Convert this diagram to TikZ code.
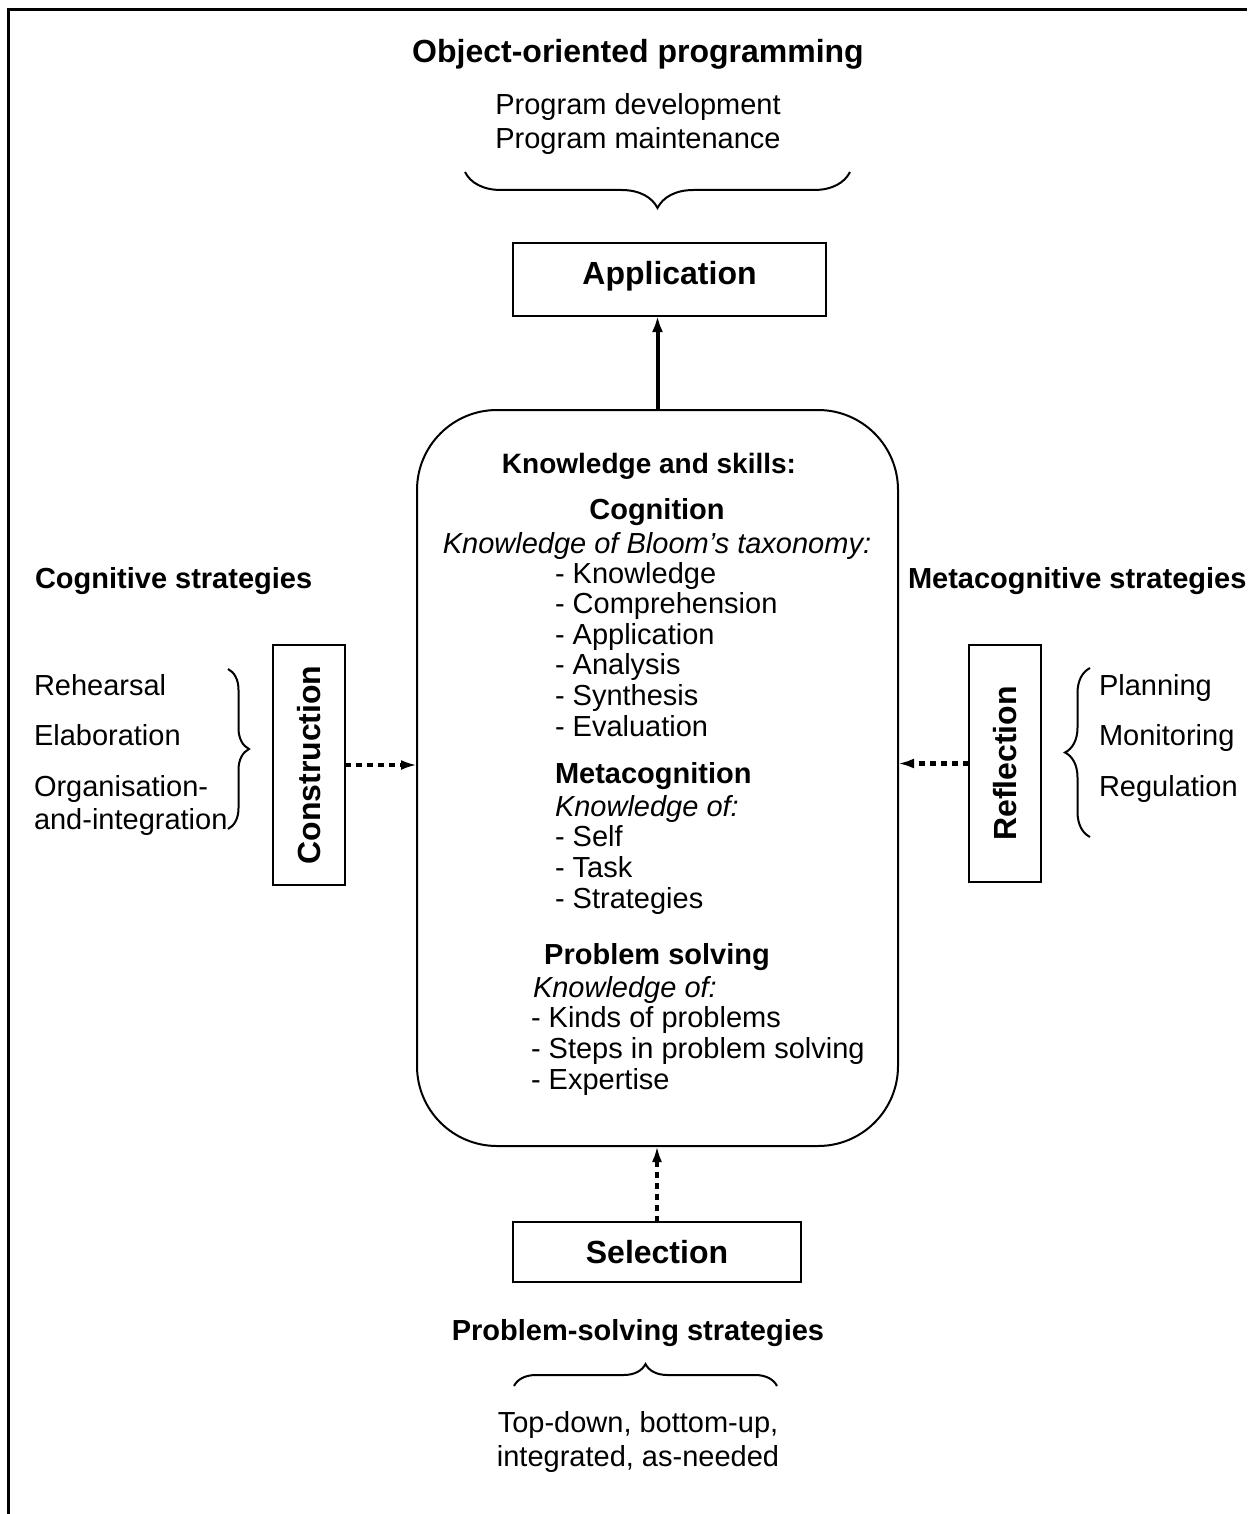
\documentclass[tikz,border=0pt]{standalone}
\usepackage{fontspec}
\setmainfont{Liberation Sans}
\usetikzlibrary{arrows.meta,decorations.pathreplacing}
\newcommand\txtreg{\fontsize{14.5}{17}\selectfont}
\newcommand\txthead{\fontsize{16}{19}\selectfont\bfseries}
\newcommand\txtsub{\fontsize{14.5}{17}\selectfont\bfseries}
\newcommand\txtks{\fontsize{14}{17}\selectfont\bfseries}
\begin{document}
\begin{tikzpicture}[x=0.5pt,y=-0.5pt,
  every node/.style={inner sep=0pt, outer sep=0pt},
  txt/.style={font=\txtreg, anchor=base west},
  ctxt/.style={font=\txtreg, anchor=base},
  itxt/.style={font=\txtreg\itshape, anchor=base west},
  headc/.style={font=\txthead, anchor=base},
  subc/.style={font=\txtsub, anchor=base},
  subl/.style={font=\txtsub, anchor=base west},
  boxnode/.style={draw, line width=1pt},
  solidarrow/.style={line width=2pt, -{Latex[length=8pt,width=5.5pt]}},
  dotarrow/.style={line width=2.2pt, dash pattern=on 3pt off 2.5pt, -{Latex[length=8pt,width=5pt]}},
  bracedeco/.style={decorate, line width=1pt, decoration={brace, amplitude=#1}},
]
\useasboundingbox (0,0) rectangle (1247,1514);

% outer frame (top and left edges)
\draw[line width=1.5pt] (8,1514) -- (8,10) -- (1247,10);

% top: application domain
\node[headc] (oop) at (638,63) {Object-oriented programming};
\node[ctxt] (pdev) at (638,115) {Program development};
\node[ctxt] (pmai) at (638,149) {Program maintenance};
\draw[bracedeco=18pt] (850,172) -- (465,172);

\node[boxnode, minimum width=156.5pt, minimum height=36.5pt] (app) at (669.5,279.5) {};
\node[headc] (applbl) at (669.5,285) {Application};

% central knowledge box
\node[boxnode, rounded corners=40pt, minimum width=240.5pt, minimum height=368pt] (ks) at (657.5,778) {};

\node[font=\txtks, anchor=base] (kstitle) at (649,473) {Knowledge and skills:};
\node[subc] (cog) at (657,519) {Cognition};
\node[font=\txtreg\itshape, anchor=base] (cogk) at (657,553) {Knowledge of Bloom’s taxonomy:};
\node[txt] (c1) at (555,583) {- Knowledge};
\node[txt] (c2) at (555,613) {- Comprehension};
\node[txt] (c3) at (555,644) {- Application};
\node[txt] (c4) at (555,674) {- Analysis};
\node[txt] (c5) at (555,705) {- Synthesis};
\node[txt] (c6) at (555,736) {- Evaluation};

\node[subl] (meta) at (555,783) {Metacognition};
\node[itxt] (metak) at (555,816) {Knowledge of:};
\node[txt] (m1) at (555,846) {- Self};
\node[txt] (m2) at (555,877) {- Task};
\node[txt] (m3) at (555,908) {- Strategies};

\node[subc] (ps) at (657,964) {Problem solving};
\node[itxt] (psk) at (533,997) {Knowledge of:};
\node[txt] (p1) at (531,1027) {- Kinds of problems};
\node[txt] (p2) at (531,1058) {- Steps in problem solving};
\node[txt] (p3) at (531,1089) {- Expertise};

% application arrow
\draw[solidarrow] (ks.north) -- (ks.north |- app.south);

% left: cognitive strategies
\node[subl] (cogstr) at (35,588) {Cognitive strategies};
\node[txt] (l1) at (34,695) {Rehearsal};
\node[txt] (l2) at (34,745) {Elaboration};
\node[txt] (l3) at (34,796) {Organisation-};
\node[txt] (l4) at (34,829) {and-integration};
\draw[bracedeco=10.5pt] (228,669) -- (228,829);

\node[boxnode, minimum width=36pt, minimum height=120pt] (cons) at (309,765) {};
\node[font=\txthead, rotate=90] (conslbl) at (cons.center) {Construction};
\draw[dotarrow] (cons.east) -- (cons.east -| ks.west);

% right: metacognitive strategies
\node[subl] (metastr) at (908,588) {Metacognitive strategies};
\node[txt] (r1) at (1099,695) {Planning};
\node[txt] (r2) at (1099,745) {Monitoring};
\node[txt] (r3) at (1099,796) {Regulation};
\draw[bracedeco=12.5pt] (1090,837) -- (1090,668);

\node[boxnode, minimum width=36pt, minimum height=118.5pt] (refl) at (1005,763.5) {};
\node[font=\txthead, rotate=90] (refllbl) at (refl.center) {Reflection};
\draw[dotarrow] (refl.west) -- (refl.west -| ks.east);

% bottom: problem-solving strategies
\node[boxnode, minimum width=144pt, minimum height=30pt] (sel) at (657,1252) {};
\node[headc] (sellbl) at (657,1263) {Selection};
\draw[dotarrow] (sel.north) -- (sel.north |- ks.south);

\node[subc] (psstr) at (638,1340) {Problem-solving strategies};
\draw[bracedeco=11pt] (514,1386) -- (777,1386);
\node[ctxt] (b1) at (638,1432) {Top-down, bottom-up,};
\node[ctxt] (b2) at (638,1466) {integrated, as-needed};
\end{tikzpicture}
\end{document}
